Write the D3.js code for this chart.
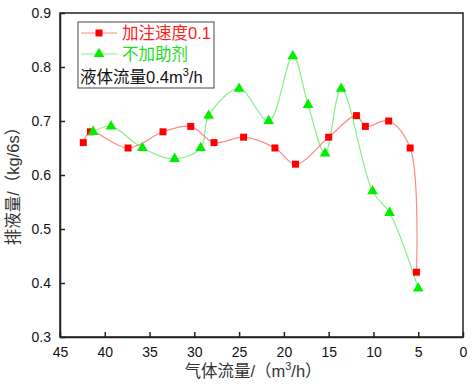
<!DOCTYPE html>
<html>
<head>
<meta charset="utf-8">
<script src="https://cdn.jsdelivr.net/npm/d3@7"></script>
<style>
  body { margin: 0; background: #fff; }
  svg text { font-family: "Liberation Sans", Arial, "Noto Sans CJK SC", sans-serif; }
</style>
</head>
<body>
<div id="chart"></div>
<script>
// 数据
const gasRed = [42.4, 41.6, 37.4, 33.5, 30.4, 27.8, 24.5, 21.0, 18.7, 15.0, 11.9, 10.9, 8.3, 5.9, 5.2];
const outRed = [0.66, 0.68, 0.65, 0.68, 0.69, 0.66, 0.67, 0.65, 0.62, 0.67, 0.71, 0.69, 0.70, 0.65, 0.42];
const gasGreen = [41.3, 39.3, 35.8, 32.2, 29.3, 28.4, 25.0, 21.7, 19.0, 17.3, 15.4, 13.6, 10.1, 8.2, 5.0];
const outGreen = [0.68, 0.69, 0.65, 0.63, 0.65, 0.71, 0.76, 0.70, 0.82, 0.73, 0.64, 0.76, 0.57, 0.53, 0.39];
const xTicks = [45, 40, 35, 30, 25, 20, 15, 10, 5, 0];
const yTicks = [0.3, 0.4, 0.5, 0.6, 0.7, 0.8, 0.9];

const W = 472, H = 391;
const pL = 60, pR = 463, pT = 13, pB = 337;

const svg = d3.select("#chart").append("svg")
    .attr("width", W).attr("height", H);

const x = d3.scaleLinear().domain([45, 0]).range([pL, pR]);
const y = d3.scaleLinear().domain([0.3, 0.9]).range([pB, pT]);

// 边框
svg.append("rect")
    .attr("x", pL).attr("y", pT)
    .attr("width", pR - pL).attr("height", pB - pT)
    .attr("fill", "none").attr("stroke", "#222").attr("stroke-width", 1.5);

// x 轴
const gx = svg.append("g")
    .attr("transform", `translate(0,${pB})`)
    .call(d3.axisBottom(x).tickValues(xTicks).tickSizeInner(-5).tickSizeOuter(0).tickPadding(10));
gx.select(".domain").attr("stroke", "#222").attr("stroke-width", 1.5);
gx.selectAll(".tick line").attr("stroke", "#222").attr("stroke-width", 1.5);
gx.selectAll("text").style("font-size", "14px").attr("fill", "#111");

// y 轴
const gy = svg.append("g")
    .attr("transform", `translate(${pL},0)`)
    .call(d3.axisLeft(y).tickValues(yTicks).tickFormat(d3.format(".1f"))
        .tickSizeInner(-5).tickSizeOuter(0).tickPadding(9));
gy.select(".domain").attr("stroke", "#222").attr("stroke-width", 1.5);
gy.selectAll(".tick line").attr("stroke", "#222").attr("stroke-width", 1.5);
gy.selectAll("text").style("font-size", "14px").attr("fill", "#111");

// 轴标题
const xt = svg.append("text")
    .attr("x", 253).attr("y", 377)
    .attr("text-anchor", "middle")
    .style("font-size", "16.5px").attr("fill", "#333");
xt.append("tspan").text("气体流量/（m");
xt.append("tspan").attr("dy", -7).style("font-size", "11px").text("3");
xt.append("tspan").attr("dy", 7).text("/h）");

svg.append("text")
    .attr("transform", `translate(19,182) rotate(-90)`)
    .attr("text-anchor", "middle")
    .style("font-size", "16.5px").attr("fill", "#333")
    .text("排液量/（kg/6s）");

// 曲线
const line = d3.line()
    .x(d => x(d[0])).y(d => y(d[1]))
    .curve(d3.curveCatmullRom.alpha(0.5));

const redPts = gasRed.map((g, i) => [g, outRed[i]]);
const greenPts = gasGreen.map((g, i) => [g, outGreen[i]]);

svg.append("path").datum(greenPts)
    .attr("d", line).attr("fill", "none")
    .attr("stroke", "#88ee88").attr("stroke-width", 1.2);
svg.append("path").datum(redPts)
    .attr("d", line).attr("fill", "none")
    .attr("stroke", "#ff8888").attr("stroke-width", 1.2);

const sq = d3.symbol().type(d3.symbolSquare).size(49);
const tri = d3.symbol().type(d3.symbolTriangle).size(50);

svg.selectAll(".red").data(redPts).enter().append("path")
    .attr("class", "red")
    .attr("transform", d => `translate(${x(d[0])},${y(d[1])})`)
    .attr("d", sq).attr("fill", "#ff0000");

svg.selectAll(".green").data(greenPts).enter().append("path")
    .attr("class", "green")
    .attr("transform", d => `translate(${x(d[0])},${y(d[1])})`)
    .attr("d", tri).attr("fill", "#00ee00");

// 图例
const lg = svg.append("g");
lg.append("rect")
    .attr("x", 78).attr("y", 22).attr("width", 136).attr("height", 66)
    .attr("fill", "#fff").attr("stroke", "#444").attr("stroke-width", 1);

const legendItems = [
    { label: "加注速度0.1", color: "#ff2020", lineColor: "#ff8888", sym: sq, symColor: "#ff0000", yy: 33 },
    { label: "不加助剂", color: "#22dd22", lineColor: "#88ee88", sym: tri, symColor: "#00ee00", yy: 54 }
];
legendItems.forEach(it => {
    lg.append("line")
        .attr("x1", 81).attr("x2", 117).attr("y1", it.yy).attr("y2", it.yy)
        .attr("stroke", it.lineColor).attr("stroke-width", 1.2);
    lg.append("path")
        .attr("transform", `translate(99,${it.yy})`)
        .attr("d", it.sym).attr("fill", it.symColor);
    lg.append("text")
        .attr("x", 122).attr("y", it.yy + 6)
        .style("font-size", "16.5px").attr("fill", it.color)
        .text(it.label);
});
const l3 = lg.append("text")
    .attr("x", 80).attr("y", 83)
    .style("font-size", "16.5px").attr("fill", "#111");
l3.append("tspan").text("液体流量0.4m");
l3.append("tspan").attr("dy", -7).style("font-size", "11px").text("3");
l3.append("tspan").attr("dy", 7).text("/h");
</script>
</body>
</html>
